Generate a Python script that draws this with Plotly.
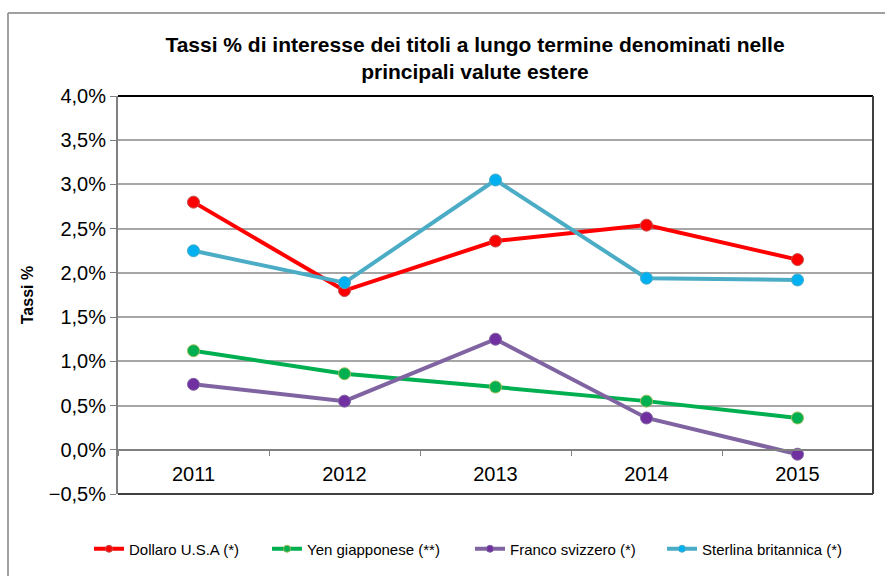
import plotly.graph_objects as go

years = ["2011", "2012", "2013", "2014", "2015"]
dollaro = [2.80, 1.80, 2.36, 2.54, 2.15]
yen = [1.12, 0.86, 0.71, 0.55, 0.36]
franco = [0.74, 0.55, 1.25, 0.36, -0.05]
sterlina = [2.25, 1.89, 3.05, 1.94, 1.92]

series = [
    ("Dollaro U.S.A (*)", dollaro, "#FF0000", "#FF0000", "#C0504D", "legend"),
    ("Yen giapponese (**)", yen, "#00B050", "#00B050", "#9BBB59", "legend2"),
    ("Franco svizzero (*)", franco, "#8064A2", "#7030A0", "#8064A2", "legend3"),
    ("Sterlina britannica (*)", sterlina, "#4BACC6", "#00B0F0", "#4BACC6", "legend4"),
]

FONT = "Arial, 'Liberation Sans', sans-serif"

fig = go.Figure()
for name, vals, lc, mc, mlc, lg in series:
    fig.add_trace(go.Scatter(
        x=years, y=vals, name=name, mode="lines+markers",
        line=dict(color=lc, width=4),
        marker=dict(color=mc, size=12, line=dict(color=mlc, width=1)),
        showlegend=False,
    ))
# legend entries (smaller legend markers, as in the original)
for name, vals, lc, mc, mlc, lg in series:
    fig.add_trace(go.Scatter(
        x=[None], y=[None], name=name, mode="lines+markers",
        line=dict(color=lc, width=4),
        marker=dict(color=mc, size=7, line=dict(color=mlc, width=1)),
        legend=lg, showlegend=True,
    ))

L, R, T, B = 118, 12, 96, 82
W, H = 885, 576
pw = W - L - R
ph = H - T - B

def cx(px):
    return px / W

def cy(py):
    return 1 - py / H

def lx(px):
    return (px - L) / pw

def ly(py):
    return (H - B - py) / ph

leg_common = dict(orientation="h", yanchor="middle", xanchor="left",
                  xref="container", yref="container",
                  font=dict(family=FONT, size=15, color="#000000"),
                  bgcolor="rgba(0,0,0,0)", itemwidth=30, tracegroupgap=0)
legend_x = [89, 267, 470, 662]
legs = {}
for i, key in enumerate(["legend", "legend2", "legend3", "legend4"]):
    legs[key] = dict(leg_common, x=cx(legend_x[i]), y=cy(549))

fig.update_layout(
    width=W, height=H,
    showlegend=True,
    margin=dict(l=L, r=R, t=T, b=B, autoexpand=False),
    paper_bgcolor="white", plot_bgcolor="white",
    separators=",.",
    font=dict(family=FONT, color="#000000"),
    title=dict(
        text="<b>Tassi % di interesse dei titoli a lungo termine denominati nelle<br>principali valute estere</b>",
        x=475 / W, xanchor="center", y=1 - 52 / H, yanchor="middle",
        font=dict(size=21, family=FONT, color="#000000"),
    ),
    xaxis=dict(
        type="category", range=[-0.5, 4.5],
        anchor="free", position=0.5 / 4.5, automargin=False,
        showline=True, linecolor="#808080", linewidth=2,
        ticks="outside", tickson="boundaries", ticklen=5, tickcolor="#808080",
        ticklabelstandoff=6,
        tickfont=dict(size=20), showgrid=False,
    ),
    yaxis=dict(
        range=[-0.5, 4.0], dtick=0.5, tick0=0, automargin=False,
        tickformat=".1f", ticksuffix="%",
        showline=True, linecolor="#808080", linewidth=2,
        ticks="outside", ticklen=6, tickcolor="#808080",
        tickfont=dict(size=20),
        showgrid=True, gridcolor="#A6A6A6", gridwidth=1.5,
        zeroline=False,
        title=dict(text="<b>Tassi %</b>", font=dict(size=16), standoff=11),
    ),
    **legs,
    shapes=[
        dict(type="line", xref="paper", yref="paper", x0=0, x1=1, y0=1, y1=1,
             line=dict(color="#000000", width=2)),
        dict(type="line", xref="paper", yref="paper", x0=1, x1=1, y0=0, y1=1,
             line=dict(color="#404040", width=2)),
        dict(type="line", xref="paper", yref="paper", x0=0, x1=1, y0=0, y1=0,
             line=dict(color="#404040", width=2)),
        dict(type="line", xref="paper", yref="paper", x0=lx(8), x1=lx(890), y0=ly(13), y1=ly(13),
             line=dict(color="#A0A0A0", width=2)),
        dict(type="line", xref="paper", yref="paper", x0=lx(8), x1=lx(8), y0=ly(13), y1=ly(580),
             line=dict(color="#A0A0A0", width=2)),
    ],
)

fig.write_html("out.html", config={"displayModeBar": False},
               post_script="document.body.style.margin='0';document.body.style.overflow='hidden';")
